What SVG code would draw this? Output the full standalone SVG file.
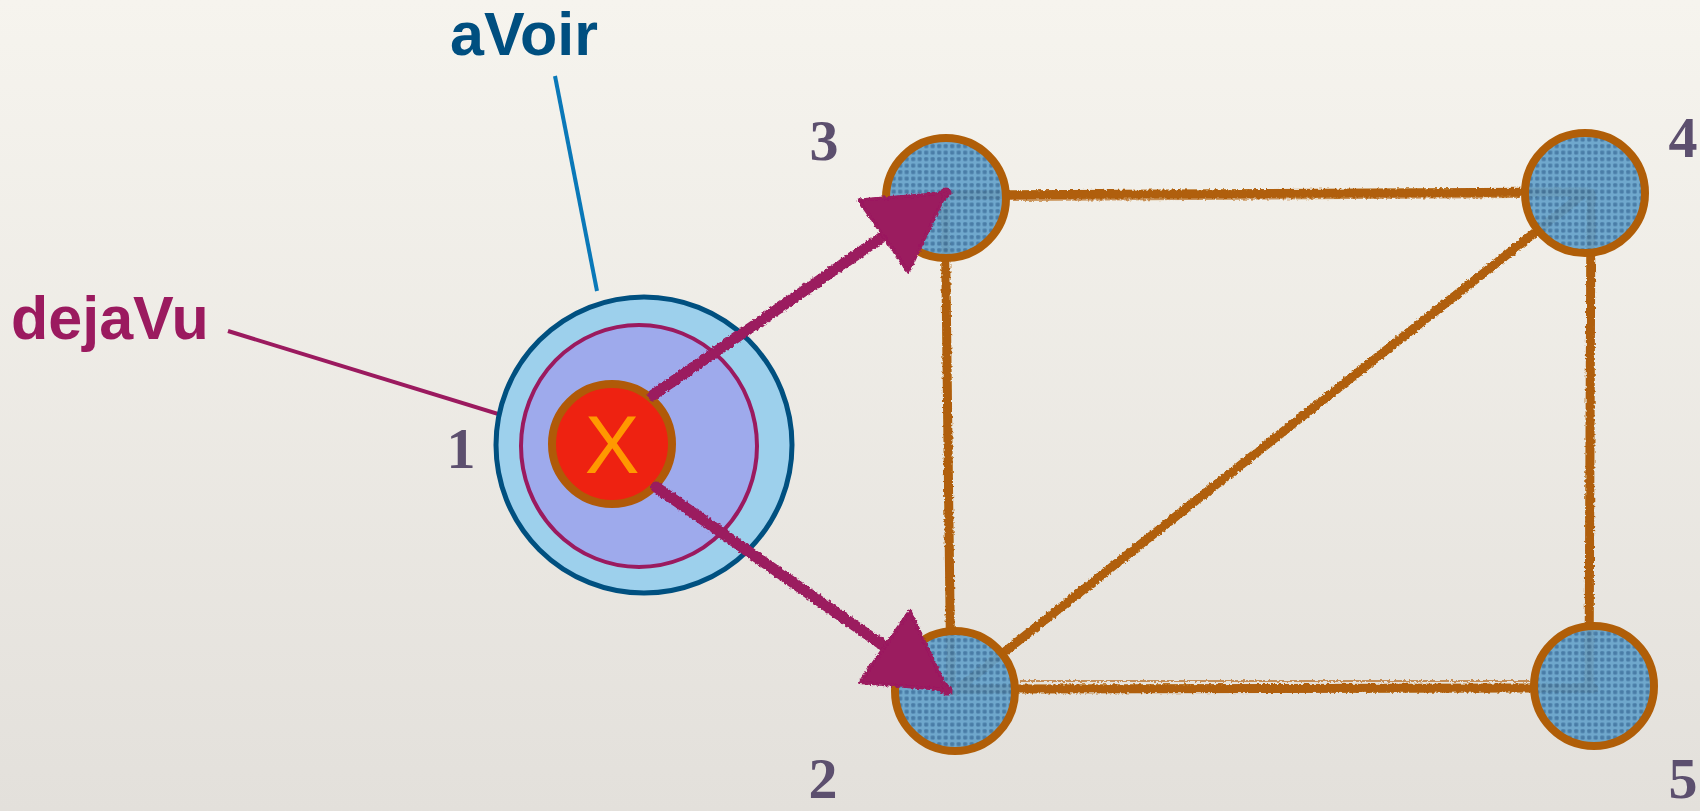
<svg xmlns="http://www.w3.org/2000/svg" width="1700" height="811" viewBox="0 0 1700 811">
<defs>
<linearGradient id="bg" x1="0" y1="0" x2="0" y2="1">
<stop offset="0" stop-color="#f6f4ee"/>
<stop offset="1" stop-color="#e3e0db"/>
</linearGradient>
<pattern id="dots" width="6.5" height="6.5" patternUnits="userSpaceOnUse">
<rect width="6.5" height="6.5" fill="#66a3cb"/>
<rect x="1.2" y="1.2" width="4" height="4" rx="1" fill="#3d74a2"/>
</pattern>
<filter id="rough" x="-5%" y="-5%" width="110%" height="110%">
<feTurbulence type="fractalNoise" baseFrequency="0.35" numOctaves="2" seed="3" result="n"/>
<feDisplacementMap in="SourceGraphic" in2="n" scale="4" xChannelSelector="R" yChannelSelector="G"/>
</filter>
<marker id="head" markerUnits="userSpaceOnUse" markerWidth="90" markerHeight="100" refX="82" refY="50" orient="auto" viewBox="0 0 90 100">
<polygon points="82,50 6,6 6,94" fill="#9b1a5f" stroke="#9b1a5f" stroke-width="3" stroke-linejoin="round"/>
</marker>
<style>
.edge{stroke:#b05e08;stroke-width:9;stroke-linecap:round;fill:none}
.edge2{stroke:#b86a18;stroke-width:2;fill:none;opacity:.7}
.arrow{stroke:#9b1a5f;stroke-width:11;fill:none;stroke-linecap:round}
.node{fill:url(#dots);stroke:#b05e08;stroke-width:8;fill-opacity:.93}
.num{font-family:"Liberation Serif",serif;font-weight:bold;font-size:58px;fill:#5c4f6e}
.lbl{font-family:"Liberation Sans",Arial,sans-serif;font-weight:bold;font-size:61px}
</style>
</defs>
<rect width="1700" height="811" fill="url(#bg)"/>

<g id="connectors">
<g filter="url(#rough)">
<line class="edge" x1="946" y1="195" x2="1585" y2="192"/>
<line class="edge" x1="945" y1="198" x2="951" y2="691"/>
<line class="edge" x1="1591" y1="193" x2="1589" y2="686"/>
<line class="edge" x1="955" y1="689" x2="1594" y2="688"/>
<line class="edge" x1="955" y1="691" x2="1585" y2="193"/>
<line class="edge2" x1="1010" y1="200" x2="1520" y2="197"/>
<line class="edge2" x1="1020" y1="681" x2="1530" y2="681"/>
</g>
<line x1="555" y1="76" x2="597" y2="291" stroke="#0a78b8" stroke-width="4"/>
<line x1="228" y1="331" x2="524" y2="422" stroke="#9b1a5f" stroke-width="4"/>
</g>

<g id="node1">
<circle cx="644" cy="445" r="148" fill="#9dd0ec" stroke="#005080" stroke-width="5"/>
<ellipse cx="639" cy="446" rx="118" ry="121" fill="#9eaaec" stroke="#9b1a5f" stroke-width="4"/>
<circle cx="612" cy="444" r="60" fill="#ee2211" stroke="#b05a08" stroke-width="8"/>
<text x="612" y="473" text-anchor="middle" font-family="Liberation Sans, Arial, sans-serif" font-size="82" fill="#ff9900">X</text>
<text class="num" x="461" y="468" text-anchor="middle">1</text>
</g>

<g id="node3">
<circle class="node" cx="946" cy="198" r="60"/>
<text class="num" x="824" y="160" text-anchor="middle">3</text>
</g>
<g id="node4">
<circle class="node" cx="1585" cy="193" r="60"/>
<text class="num" x="1683" y="157" text-anchor="middle">4</text>
</g>
<g id="node2">
<circle class="node" cx="955" cy="691" r="60"/>
<text class="num" x="823" y="798" text-anchor="middle">2</text>
</g>
<g id="node5">
<circle class="node" cx="1594" cy="686" r="60"/>
<text class="num" x="1683" y="798" text-anchor="middle">5</text>
</g>

<g id="arrows" filter="url(#rough)">
<line class="arrow" x1="653" y1="395" x2="946" y2="193" marker-end="url(#head)"/>
<line class="arrow" x1="656" y1="487" x2="947" y2="690" marker-end="url(#head)"/>
</g>

<g id="labels">
<text class="lbl" x="450" y="55" fill="#004f80">aVoir</text>
<text class="lbl" x="11" y="339" fill="#9b1a5f">dejaVu</text>
</g>
</svg>
